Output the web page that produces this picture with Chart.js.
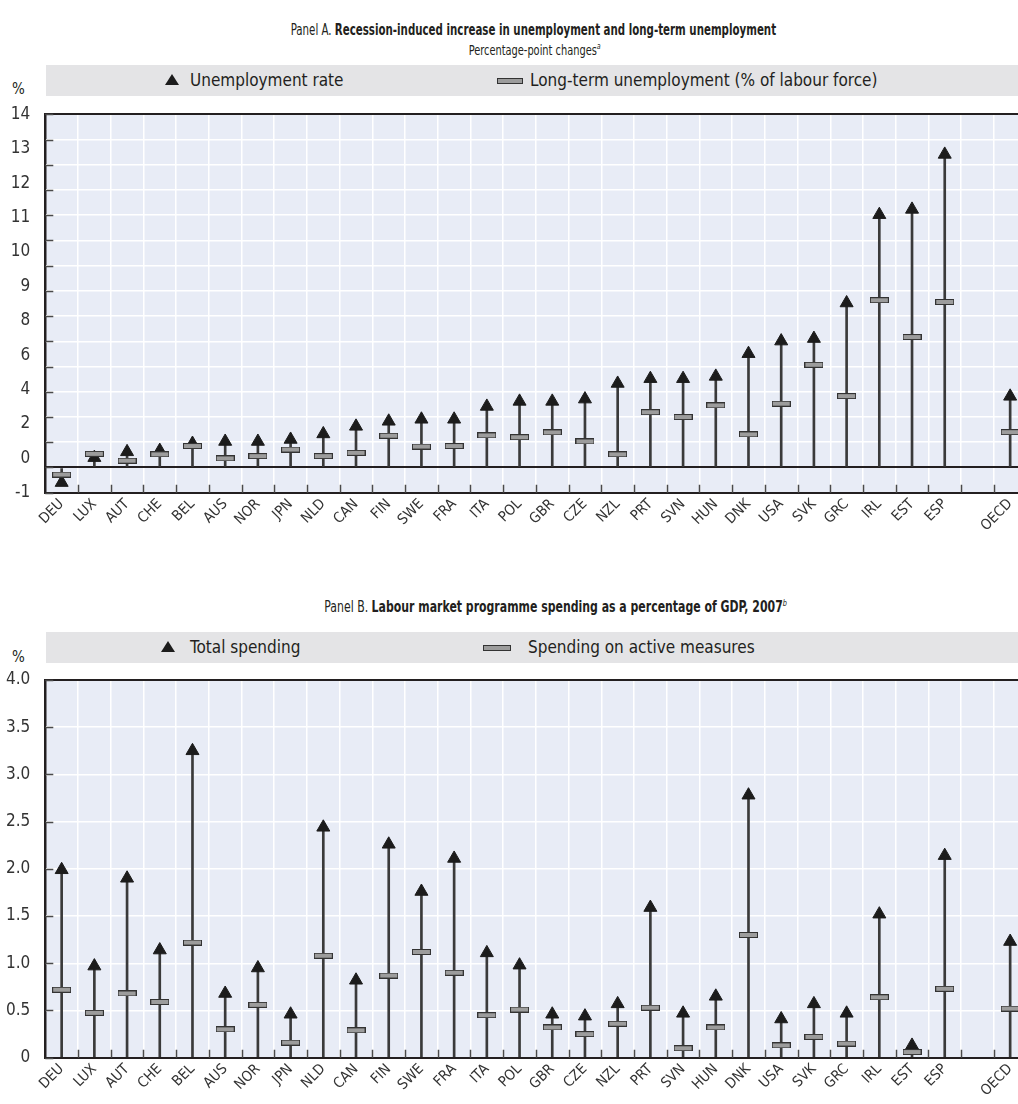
<!DOCTYPE html>
<html>
<head>
<meta charset="utf-8">
<script src="https://cdn.jsdelivr.net/npm/chart.js@4.4.1/dist/chart.umd.min.js"></script>
<style>
  html, body { margin: 0; padding: 0; background: #fff; overflow: hidden; }
  body { width: 1018px; height: 1104px; position: relative;
         font-family: "Liberation Sans Narrow", "Arial Narrow", "DejaVu Sans Condensed", Roboto, sans-serif;
         color: #231f20; }
  .title { position: absolute; left: 0; text-align: center; font-size: 15px; white-space: nowrap; }
  .title span { display: inline-block; }
  .title b { font-weight: bold; }
  .title sup { font-size: 9px; font-style: italic; }
  .band { position: absolute; left: 46px; width: 972px; height: 31px; background: #e4e4e6; }
  .tri { position: absolute; width: 0; height: 0; border-left: 7px solid transparent;
         border-right: 7px solid transparent; border-bottom: 11px solid #1c1c1c; }
  .rect { position: absolute; height: 4px; background: #9c9c9c; border: 1px solid #333; }
  .lab { position: absolute; font-size: 17px; white-space: nowrap; line-height: 20px; }
  .pct { position: absolute; left: 12px; font-size: 15px; }
  canvas { position: absolute; left: 0; }
</style>
</head>
<body>
<div class="title" style="top:21px; width:1066px;"><span style="transform:scaleX(0.76);">Panel A. <b>Recession-induced increase in unemployment and long-term unemployment</b></span></div>
<div class="title" style="top:41px; width:1070px; font-size:14px;"><span style="transform:scaleX(0.78);">Percentage-point changes<sup>a</sup></span></div>
<div class="band" style="top:65px;"></div>
<div class="tri" style="left:165px; top:74px;"></div>
<div class="lab" style="left:190px; top:70px;">Unemployment rate</div>
<div class="rect" style="left:497px; top:78px; width:24px;"></div>
<div class="lab" style="left:530px; top:70px;">Long-term unemployment (% of labour force)</div>
<div class="pct" style="top:80px;">%</div>
<canvas id="chartA" width="1035" height="440" style="top:100px;"></canvas>

<div class="title" style="top:598px; width:1112px;"><span style="transform:scaleX(0.81);">Panel B. <b>Labour market programme spending as a percentage of GDP, 2007</b><sup>b</sup></span></div>
<div class="band" style="top:632px;"></div>
<div class="tri" style="left:161px; top:641px;"></div>
<div class="lab" style="left:190px; top:637px;">Total spending</div>
<div class="rect" style="left:483px; top:645px; width:26px;"></div>
<div class="lab" style="left:528px; top:637px;">Spending on active measures</div>
<div class="pct" style="top:648px;">%</div>
<canvas id="chartB" width="1035" height="440" style="top:664px;"></canvas>

<script>
const countries = ["DEU", "LUX", "AUT", "CHE", "BEL", "AUS", "NOR", "JPN", "NLD", "CAN",
  "FIN", "SWE", "FRA", "ITA", "POL", "GBR", "CZE", "NZL", "PRT", "SVN",
  "HUN", "DNK", "USA", "SVK", "GRC", "IRL", "EST", "ESP", "", "OECD"];

// Panel A, percentage-point changes
const unemploymentRate = [-0.6, 0.39, 0.62, 0.67, 0.95, 1.03, 1.03, 1.11, 1.33, 1.63,
  1.83, 1.91, 1.91, 2.42, 2.62, 2.62, 2.71, 3.33, 3.52, 3.52,
  3.61, 4.51, 5.01, 5.11, 6.52, 10.02, 10.23, 12.41, null, 2.82];
const longTermUnemployment = [-0.28, 0.54, 0.27, 0.52, 0.85, 0.36, 0.45, 0.71, 0.45, 0.58,
  1.26, 0.83, 0.85, 1.27, 1.2, 1.39, 1.03, 0.52, 2.19, 2.0,
  2.46, 1.31, 2.53, 4.07, 2.83, 6.63, 5.17, 6.56, null, 1.4];
const panelATickLabels = ["-1", "0", "2", "4", "6", "8", "9", "10", "11", "12", "13", "14"];

// Panel B, % of GDP 2007
const totalSpending = [1.99, 0.97, 1.90, 1.14, 3.25, 0.68, 0.95, 0.46, 2.44, 0.82,
  2.26, 1.76, 2.11, 1.11, 0.98, 0.46, 0.44, 0.57, 1.59, 0.47,
  0.65, 2.78, 0.41, 0.57, 0.47, 1.52, 0.13, 2.14, null, 1.23];
const activeSpending = [0.72, 0.475, 0.68, 0.59, 1.22, 0.30, 0.56, 0.16, 1.08, 0.29,
  0.87, 1.12, 0.90, 0.45, 0.51, 0.32, 0.25, 0.36, 0.53, 0.10,
  0.32, 1.30, 0.13, 0.22, 0.15, 0.64, 0.06, 0.73, null, 0.52];

const FONT = '"Liberation Sans Narrow", "Arial Narrow", "DejaVu Sans Condensed", Roboto, sans-serif';
const DARK = "#231f20";
Chart.defaults.font.family = FONT;

// little grey bar marker
const barMark = document.createElement("canvas");
barMark.width = 19; barMark.height = 6;
(function () {
  const c = barMark.getContext("2d");
  c.fillStyle = "#333";
  c.fillRect(0, 0, 19, 6);
  c.fillStyle = "#9c9c9c";
  c.fillRect(1, 1, 17, 4);
})();

const frame = {
  id: "frame",
  beforeDraw(chart) {
    const a = chart.chartArea, ctx = chart.ctx;
    ctx.save();
    ctx.fillStyle = "#e8ecf6";
    ctx.fillRect(a.left, a.top, a.right - a.left, a.bottom - a.top);
    ctx.restore();
  },
  // short tick marks pointing into the plot
  beforeDatasetsDraw(chart) {
    const a = chart.chartArea, ctx = chart.ctx;
    const x = chart.scales.x, y = chart.scales.y;
    ctx.save();
    ctx.strokeStyle = "#4a4a4a";
    ctx.lineWidth = 1.5;
    ctx.beginPath();
    y.ticks.forEach(t => {
      const py = Math.round(y.getPixelForValue(t.value)) + 0.5;
      ctx.moveTo(a.left, py); ctx.lineTo(a.left + 8, py);
    });
    for (let i = 1; i < x.ticks.length; i++) {
      const px = Math.round((x.getPixelForValue(i - 1) + x.getPixelForValue(i)) / 2) + 0.5;
      ctx.moveTo(px, a.bottom); ctx.lineTo(px, a.bottom - 8);
    }
    ctx.stroke();
    ctx.restore();
  }
};

// keep the label column a fixed width and stop it padding the plot top/bottom
const fixWidth = w => s => { s.width = w; s.paddingTop = 0; s.paddingBottom = 0; };

function makePanel(id, high, low, yOpts, extraScales, topPad, xHeight) {
  return new Chart(document.getElementById(id), {
    type: "bar",
    data: {
      labels: countries,
      datasets: [
        {
          type: "line", data: low, showLine: false, order: 1,
          pointStyle: barMark, pointRadius: 6
        },
        {
          type: "line", data: high, showLine: false, order: 2,
          pointStyle: "triangle", pointRadius: 7.5,
          backgroundColor: "#1c1c1c", borderColor: "#1c1c1c", borderWidth: 1
        },
        {
          data: high.map(v => v === null ? null : [0, v]), order: 3,
          backgroundColor: "#3a3a3a", barThickness: 2
        }
      ]
    },
    options: {
      responsive: false,
      animation: false,
      layout: { padding: { top: topPad, right: 7, left: 0, bottom: 0 } },
      plugins: { legend: { display: false }, tooltip: { enabled: false } },
      scales: Object.assign({
        x: {
          offset: true,
          grid: { offset: true, drawTicks: false, lineWidth: 1.5,
                  color: c => c.index === 0 ? DARK : "#ffffff" },
          border: { display: true, color: DARK, width: 2 },
          ticks: { autoSkip: false, minRotation: 45, maxRotation: 45, padding: 3,
                   color: "#333", font: { size: 14.5 } },
          afterFit: s => { s.height = xHeight; s.paddingLeft = 0; s.paddingRight = 0; }
        },
        y: yOpts
      }, extraScales)
    },
    plugins: [frame]
  });
}

const gridY = (lo, hi) => ({
  drawTicks: false,
  color: c => (c.tick.value === lo || c.tick.value === 0 || c.tick.value === hi) ? DARK : "#ffffff",
  lineWidth: c => (c.tick.value === lo || c.tick.value === 0 || c.tick.value === hi) ? 2 : 1.5
});

makePanel("chartA", unemploymentRate, longTermUnemployment, {
  min: -1, max: 14,
  ticks: { stepSize: 1, display: false },
  grid: gridY(-1, 14),
  border: { display: true, color: DARK, width: 2 },
  afterFit: fixWidth(0)
}, {
  yLab: {
    type: "linear", position: "left", min: 0, max: 11,
    ticks: { stepSize: 1, padding: 15, color: "#333", font: { size: 17 },
             callback: v => panelATickLabels[v] },
    grid: { display: false, drawTicks: false },
    border: { display: false },
    afterFit: fixWidth(45.3)
  }
}, 14.3, 47.3);

makePanel("chartB", totalSpending, activeSpending, {
  min: 0, max: 4,
  ticks: { stepSize: 0.5, padding: 15, color: "#333", font: { size: 17 },
           callback: v => v === 0 ? "0" : v.toFixed(1) },
  grid: gridY(0, 4),
  border: { display: true, color: DARK, width: 2 },
  afterFit: fixWidth(45.3)
}, {}, 16, 46.3);
</script>
</body>
</html>
